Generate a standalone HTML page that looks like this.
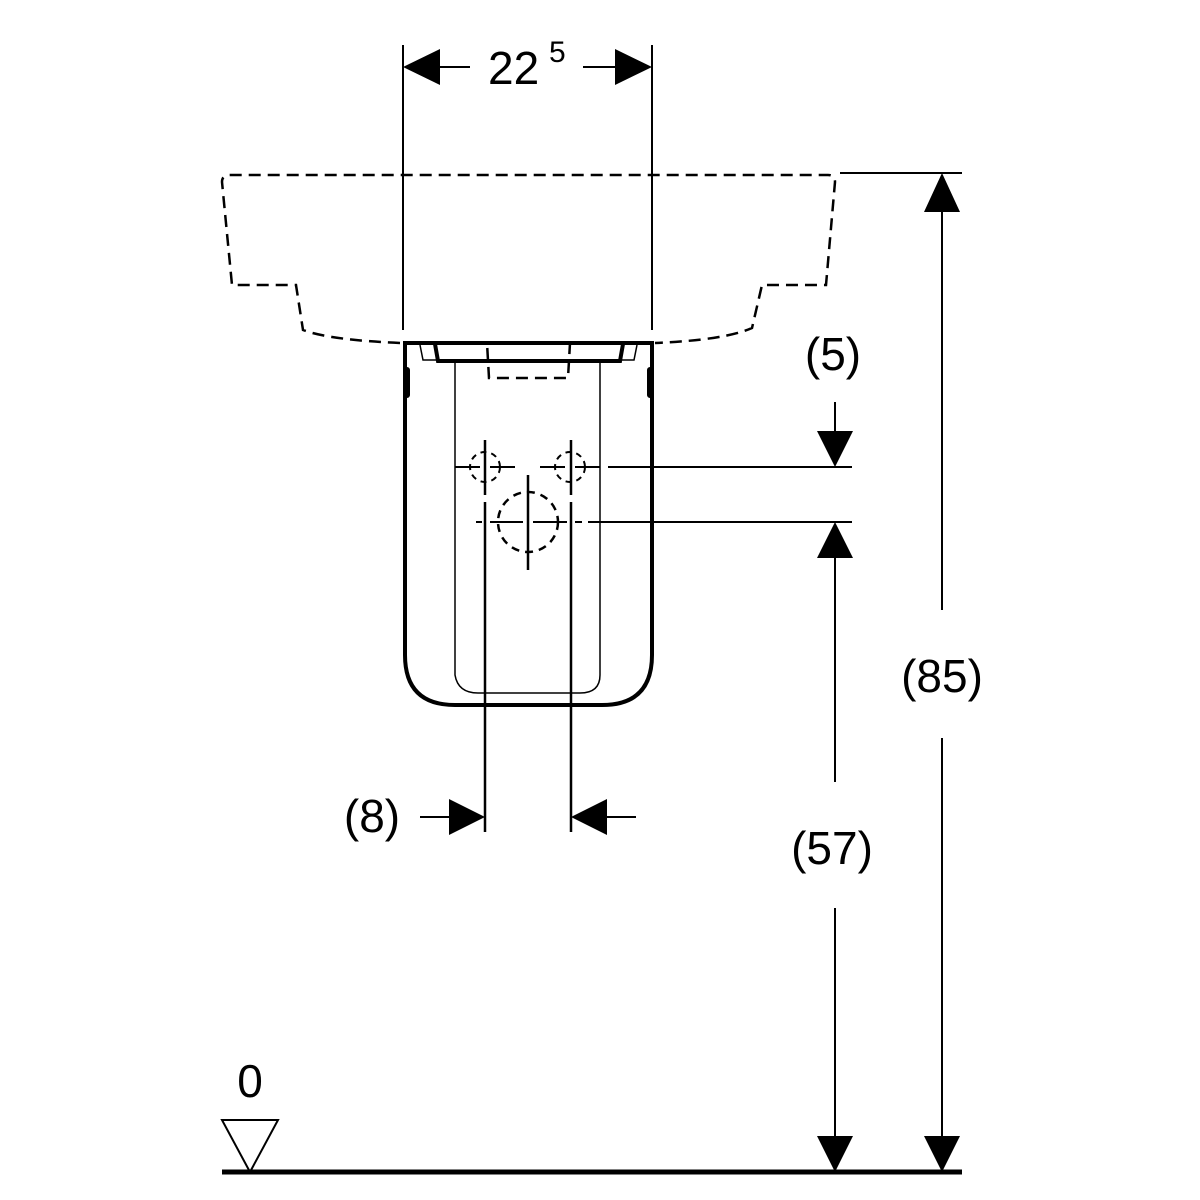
<!DOCTYPE html>
<html><head><style>body{margin:0;background:#fff}svg{display:block}text{font-family:"Liberation Sans",sans-serif;fill:#000}</style></head>
<body>
<svg width="1200" height="1200" viewBox="0 0 1200 1200" xmlns="http://www.w3.org/2000/svg">
<g fill="none" stroke="#000">
<!-- basin dashed -->
<path d="M400,343 Q330,340 303,330 L296,285 L232,285 L222,182 Q222,175 230,175 L828,175 Q835,175 835,182 L826,285 L762,285 L752,328 Q725,340 655,343" stroke-width="2.5" stroke-dasharray="12,7"/>
<path d="M435,343 L487,343 L489,378 L568,378 L570,343 L625,343" stroke-width="2.5" stroke-dasharray="12,7"/>
<!-- dim lines top -->
<line x1="403" y1="45" x2="403" y2="330" stroke-width="2"/>
<line x1="652" y1="45" x2="652" y2="330" stroke-width="2"/>
<line x1="440" y1="67" x2="470" y2="67" stroke-width="2"/>
<line x1="583" y1="67" x2="615" y2="67" stroke-width="2"/>
<!-- cover -->
<path d="M405,343 L405,655 Q405,705 455,705 L602,705 Q652,705 652,655 L652,343 Z" stroke-width="4"/>
<path d="M435,344 L438,361 L620,361 L623,344" stroke-width="4"/>
<path d="M420,345 L423,360 L437,360 M637,345 L634,360 L620,360" stroke-width="1.5"/>
<path d="M455,362 L455,675 Q458,693 478,693 L580,693 Q600,693 600,675 L600,362" stroke-width="1.5"/>
<path d="M407,370 L407,395 M650,370 L650,395" stroke-width="6" stroke-linecap="round"/>
<!-- pipes -->
<line x1="485" y1="440" x2="485" y2="495" stroke-width="2.5"/>
<line x1="485" y1="502" x2="485" y2="832" stroke-width="2.5"/>
<line x1="571" y1="440" x2="571" y2="495" stroke-width="2.5"/>
<line x1="571" y1="502" x2="571" y2="832" stroke-width="2.5"/>
<line x1="528" y1="475" x2="528" y2="570" stroke-width="2.5"/>
<path d="M455,467 L480,467 M490,467 L515,467 M540,467 L565,467 M575,467 L600,467 M608,467 L852,467" stroke-width="2"/>
<path d="M476,522 L482,522 M490,522 L523,522 M533,522 L567,522 M575,522 L582,522 M588,522 L852,522" stroke-width="2"/>
<circle cx="485" cy="467" r="15" stroke-width="2" stroke-dasharray="6,5"/>
<circle cx="570" cy="467" r="15" stroke-width="2" stroke-dasharray="6,5"/>
<circle cx="528" cy="522" r="30" stroke-width="2.5" stroke-dasharray="8,6"/>
<!-- right dims -->
<line x1="840" y1="173" x2="962" y2="173" stroke-width="2"/>
<line x1="942" y1="210" x2="942" y2="610" stroke-width="2"/>
<line x1="942" y1="738" x2="942" y2="1138" stroke-width="2"/>
<line x1="835" y1="558" x2="835" y2="782" stroke-width="2"/>
<line x1="835" y1="908" x2="835" y2="1138" stroke-width="2"/>
<line x1="835" y1="402" x2="835" y2="432" stroke-width="2"/>
<line x1="420" y1="817" x2="450" y2="817" stroke-width="2"/>
<line x1="605" y1="817" x2="636" y2="817" stroke-width="2"/>
<line x1="222" y1="1172" x2="962" y2="1172" stroke-width="5"/>
<path d="M222,1120 L278,1120 L250,1172 Z" stroke-width="2"/>
</g>
<g fill="#000">
<path d="M403,67 L440,49 L440,85 Z"/>
<path d="M652,67 L615,49 L615,85 Z"/>
<path d="M942,173 L924,212 L960,212 Z"/>
<path d="M942,1172 L924,1136 L960,1136 Z"/>
<path d="M835,522 L817,558 L853,558 Z"/>
<path d="M835,1172 L817,1136 L853,1136 Z"/>
<path d="M835,467 L817,431 L853,431 Z"/>
<path d="M485,817 L449,799 L449,835 Z"/>
<path d="M571,817 L607,799 L607,835 Z"/>
</g>
<text x="488" y="84" font-size="46">22</text>
<text x="549" y="62" font-size="30">5</text>
<text x="833" y="370" font-size="46" text-anchor="middle">(5)</text>
<text x="942" y="692" font-size="46" text-anchor="middle">(85)</text>
<text x="832" y="864" font-size="46" text-anchor="middle">(57)</text>
<text x="372" y="832" font-size="46" text-anchor="middle">(8)</text>
<text x="250" y="1097" font-size="46" text-anchor="middle">0</text>
</svg>
</body></html>
